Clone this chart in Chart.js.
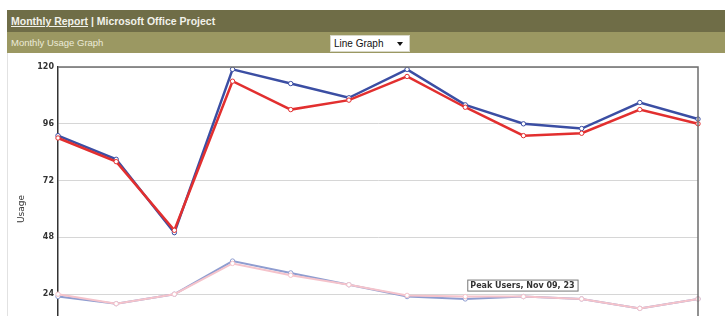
<!DOCTYPE html>
<html>
<head>
<meta charset="utf-8">
<script src="https://cdn.jsdelivr.net/npm/chart.js@4.4.1/dist/chart.umd.min.js"></script>
<style>
    body { margin: 0; width: 725px; height: 316px; overflow: hidden; background: #fff; position: relative; font-family: 'Liberation Sans', Arial, sans-serif; }
    .barra1 { position: absolute; left: 7px; top: 10px; width: 718px; height: 22px; background: #6f6d47; color: #f2f2ea; font-weight: bold; font-size: 10.5px; line-height: 22px; }
    .barra1 span { margin-left: 4px; }
    .barra1 u { text-decoration: underline; }
    .barra2 { position: absolute; left: 7px; top: 32px; width: 718px; height: 21px; background: #9b9862; color: #ecebd8; font-size: 9.5px; line-height: 21px; }
    .barra2 span { margin-left: 4px; }
    .combo { position: absolute; left: 330px; top: 35px; width: 78px; height: 15px; background: #fff; border: 1px solid #d8d8c8; color: #111; font-size: 10px; line-height: 15px; }
    .combo span { margin-left: 3px; }
    .combo i { position: absolute; right: 6px; top: 6px; width: 0; height: 0; border-left: 3px solid transparent; border-right: 3px solid transparent; border-top: 4px solid #111; }
    .painel { position: absolute; left: 7px; top: 53px; width: 1px; height: 263px; background: #e2e2e2; }
    .grafico { position: absolute; left: 8px; top: 53px; }
</style>
</head>
<body>
<div class="barra1"><span><u>Monthly Report</u> | Microsoft Office Project</span></div>
<div class="barra2"><span>Monthly Usage Graph</span></div>
<div class="combo"><span>Line Graph</span><i></i></div>
<div class="painel"></div>
<div class="grafico"><canvas id="usoGrafico" width="717" height="328"></canvas></div>

<script>
// MESES
const labels_meses = ['Apr 09', 'May 09', 'Jun 09', 'Jul 09', 'Aug 09', 'Sep 09', 'Oct 09', 'Nov 09', 'Dec 09', 'Jan 10', 'Feb 10', 'Mar 10'];

const totalUsers = [91, 81, 50, 119, 113, 107, 119, 104, 96, 94, 105, 98];
const activeUsers = [90, 80, 51, 114, 102, 106, 116, 103, 91, 92, 102, 96];
const avgUsers = [23, 20, 24, 38, 33, 28, 23, 22, 23, 22, 18, 22];
const peakUsers = [24, 20, 24, 37, 32, 28, 23.5, 23, 23, 22, 18, 22];

const yTicks = [0, 24, 48, 72, 96, 120];

// tooltip fixo "Peak Users, Nov 09, 23"
const dicaIndex = 7;

const dicaPlugin = {
    id: 'dica',
    afterDraw(chart) {
        const ctx = chart.ctx;
        const a = chart.chartArea;
        // moldura do grafico
        ctx.save();
        ctx.lineWidth = 1.5;
        ctx.strokeStyle = '#6e6e6e';
        ctx.beginPath();
        ctx.moveTo(a.left, a.top);
        ctx.lineTo(a.right, a.top);
        ctx.lineTo(a.right, a.bottom);
        ctx.stroke();

        const p = chart.getDatasetMeta(2).data[dicaIndex];
        const txt = 'Peak Users, ' + labels_meses[dicaIndex] + ', ' + peakUsers[dicaIndex];
        ctx.font = 'bold 8px "DejaVu Sans", sans-serif';
        const w = ctx.measureText(txt).width + 6;
        const x = p.x + 2, y = p.y - 17;
        ctx.fillStyle = '#ffffff';
        ctx.fillRect(x, y, w, 11);
        ctx.strokeStyle = '#777';
        ctx.lineWidth = 1;
        ctx.strokeRect(x + 0.5, y + 0.5, w, 11);
        ctx.fillStyle = '#333';
        ctx.textBaseline = 'middle';
        ctx.fillText(txt, x + 3, y + 6);
        ctx.restore();
    }
};

const linha = (label, data, cor, largura) => ({
    label: label,
    data: data,
    borderColor: cor,
    borderWidth: largura,
    pointRadius: 2.2,
    pointBorderWidth: 1,
    pointBackgroundColor: '#ffffff',
    pointBorderColor: cor,
    tension: 0
});

// o primeiro dataset fica por cima
const data_uso = {
    labels: labels_meses,
    datasets: [
        linha('Active Users', activeUsers, '#e22f2f', 2.5),
        linha('Total Users', totalUsers, '#3b4ea3', 2.5),
        linha('Peak Users', peakUsers, '#f5c3cb', 2),
        linha('Avg Users', avgUsers, '#8f9dd0', 2)
    ]
};

const uso_config = {
    type: 'line',
    data: data_uso,
    options: {
        responsive: false,
        devicePixelRatio: 1,
        animation: false,
        layout: { padding: { top: 14, right: 27, left: 0, bottom: 0 } },
        scales: {
            x: {
                offset: false,
                grid: { display: false },
                border: { color: '#444' },
                ticks: { color: '#333', font: { size: 9, family: 'DejaVu Sans' } },
                afterFit: (s) => { s.height = 30; }
            },
            y: {
                min: 0,
                max: 120,
                afterBuildTicks: (s) => { s.ticks = yTicks.map(v => ({ value: v })); },
                grid: { color: '#d6d6d6', drawTicks: false },
                border: { color: '#333', width: 1.5 },
                ticks: {
                    padding: 4,
                    color: '#333',
                    font: { size: 8, family: 'DejaVu Sans', weight: 'bold' }
                },
                title: {
                    display: true,
                    text: 'Usage',
                    color: '#333',
                    padding: { top: 8, bottom: 4 },
                    font: { size: 9, family: 'DejaVu Sans' }
                },
                afterFit: (s) => { s.width = 50; }
            }
        },
        plugins: {
            legend: { display: false },
            tooltip: { enabled: false }
        }
    },
    plugins: [dicaPlugin]
};

const grafico_uso = new Chart(document.getElementById('usoGrafico'), uso_config);
</script>
</body>
</html>
